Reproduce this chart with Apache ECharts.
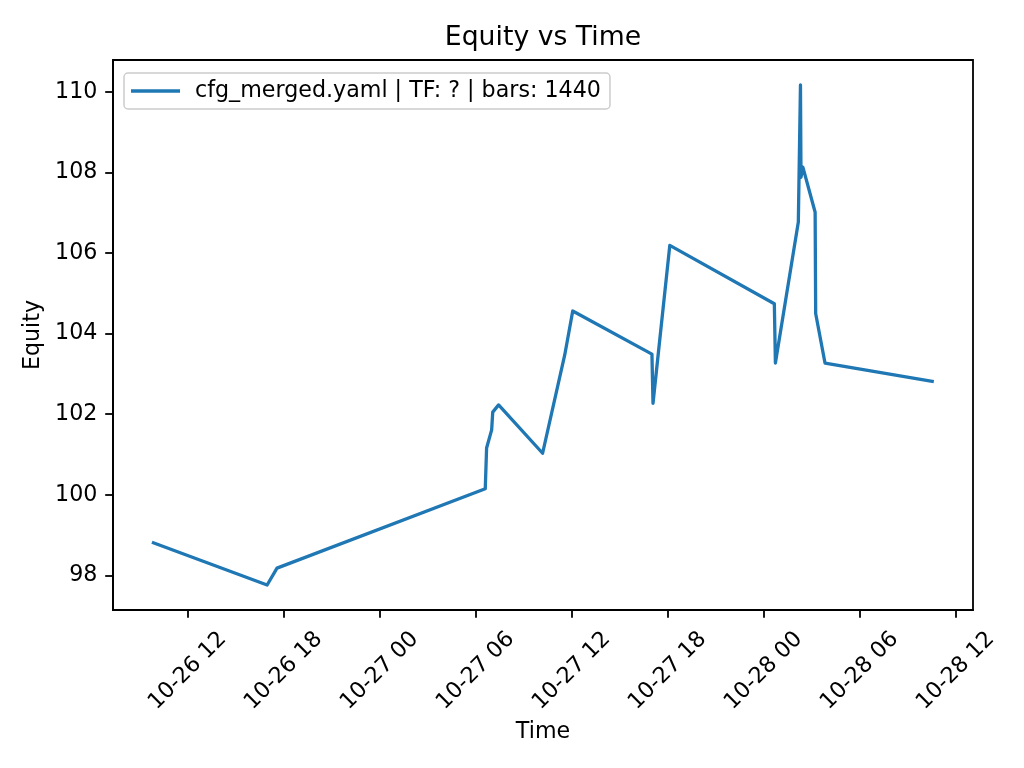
<!DOCTYPE html>
<html>
<head>
<meta charset="utf-8">
<script src="https://cdn.jsdelivr.net/npm/echarts@6/dist/echarts.min.js"></script>
<style>
html,body{margin:0;padding:0;background:#fff;}
#chart{width:1024px;height:768px;}
</style>
</head>
<body>
<div id="chart"></div>
<script>
// ---- data ----
const times = [
  "2025-10-26 09:46", "2025-10-26 16:58", "2025-10-26 17:35",
  "2025-10-27 06:36", "2025-10-27 06:41", "2025-10-27 07:00", "2025-10-27 07:04", "2025-10-27 07:26",
  "2025-10-27 10:11", "2025-10-27 11:34", "2025-10-27 12:04",
  "2025-10-27 17:01", "2025-10-27 17:05", "2025-10-27 18:08",
  "2025-10-28 00:40", "2025-10-28 00:44", "2025-10-28 02:10", "2025-10-28 02:18",
  "2025-10-28 02:20", "2025-10-28 02:27", "2025-10-28 03:13", "2025-10-28 03:15",
  "2025-10-28 03:50", "2025-10-28 10:38"
];
const equity = [
  98.82, 97.76, 98.18,
  100.15, 101.16, 101.61, 102.05, 102.23,
  101.03, 103.47, 104.56,
  103.49, 102.27, 106.19,
  104.74, 103.27, 106.77, 110.17,
  107.88, 108.13, 107.01, 104.50,
  103.27, 102.81
];
const xTickTimes = [
  "2025-10-26 12:00", "2025-10-26 18:00", "2025-10-27 00:00", "2025-10-27 06:00",
  "2025-10-27 12:00", "2025-10-27 18:00", "2025-10-28 00:00", "2025-10-28 06:00",
  "2025-10-28 12:00"
];
const xTickLabels = [
  "10-26 12", "10-26 18", "10-27 00", "10-27 06",
  "10-27 12", "10-27 18", "10-28 00", "10-28 06", "10-28 12"
];
const yTicks = [98, 100, 102, 104, 106, 108, 110];
const xRange = ["2025-10-26 07:20", "2025-10-28 13:05"];
const yRange = [97.14, 110.79];
const seriesName = "cfg_merged.yaml | TF: ? | bars: 1440";

// hours since 2025-10-26 00:00
function toHours(s) {
  const [d, t] = s.split(" ");
  const [Y, M, D] = d.split("-").map(Number);
  const [h, m] = t.split(":").map(Number);
  return (Date.UTC(Y, M - 1, D, h, m) - Date.UTC(2025, 9, 26, 0, 0)) / 3600000;
}
const points = times.map((t, i) => [toHours(t), equity[i]]);
const xTickHours = xTickTimes.map(toHours);
const labelMap = {};
xTickHours.forEach((h, i) => { labelMap[h.toFixed(3)] = xTickLabels[i]; });

const FONT = "DejaVu Sans";
const FS = 22.2;
const chart = echarts.init(document.getElementById("chart"));
chart.setOption({
  animation: false,
  backgroundColor: "#fff",
  title: {
    text: "Equity vs Time",
    left: 543,
    textAlign: "center",
    top: 25,
    padding: 0,
    textStyle: { fontFamily: FONT, fontSize: 26.7, fontWeight: "normal", color: "#000" }
  },
  legend: {
    left: 124,
    top: 73,
    padding: [5, 9, 5, 7],
    itemWidth: 49,
    itemHeight: 14,
    borderColor: "#cccccc",
    borderWidth: 1.5,
    borderRadius: 4,
    backgroundColor: "rgba(255,255,255,0.8)",
    textStyle: { fontFamily: FONT, fontSize: FS, color: "#000", padding: [0, 0, 0, 10], lineHeight: 26 },
    data: [{ name: seriesName, icon: "path://M0,0 L49,0 L49,3.3 L0,3.3 Z" }]
  },
  grid: {
    left: 113, right: 51, top: 60, bottom: 158,
    show: true, borderColor: "#000", borderWidth: 1.8, backgroundColor: "transparent"
  },
  xAxis: {
    type: "value",
    min: toHours(xRange[0]),
    max: toHours(xRange[1]),
    name: "Time",
    nameLocation: "middle",
    nameGap: 107,
    nameTextStyle: { fontFamily: FONT, fontSize: FS, color: "#000" },
    splitLine: { show: false },
    axisLine: { show: true, lineStyle: { color: "#000", width: 1.8 } },
    axisTick: { show: true, length: 7.8, lineStyle: { color: "#000", width: 1.8 }, customValues: xTickHours },
    axisLabel: {
      customValues: xTickHours,
      rotate: 45,
      align: "center",
      verticalAlign: "middle",
      margin: 61,
      fontFamily: FONT, fontSize: FS, color: "#000",
      formatter: v => labelMap[Number(v).toFixed(3)] || ""
    }
  },
  yAxis: {
    type: "value",
    min: yRange[0],
    max: yRange[1],
    name: "Equity",
    nameLocation: "middle",
    nameGap: 61,
    nameTextStyle: { fontFamily: FONT, fontSize: FS, color: "#000" },
    splitLine: { show: false },
    axisLine: { show: true, lineStyle: { color: "#000", width: 1.8 } },
    axisTick: { show: true, length: 7.8, lineStyle: { color: "#000", width: 1.8 }, customValues: yTicks },
    axisLabel: {
      customValues: yTicks,
      margin: 15.6,
      fontFamily: FONT, fontSize: FS, color: "#000",
      formatter: v => String(v)
    }
  },
  series: [{
    name: seriesName,
    type: "line",
    data: points,
    showSymbol: false,
    symbol: "none",
    lineStyle: { color: "#1f77b4", width: 3.3, join: "round" },
    itemStyle: { color: "#1f77b4" }
  }]
});
</script>
</body>
</html>
